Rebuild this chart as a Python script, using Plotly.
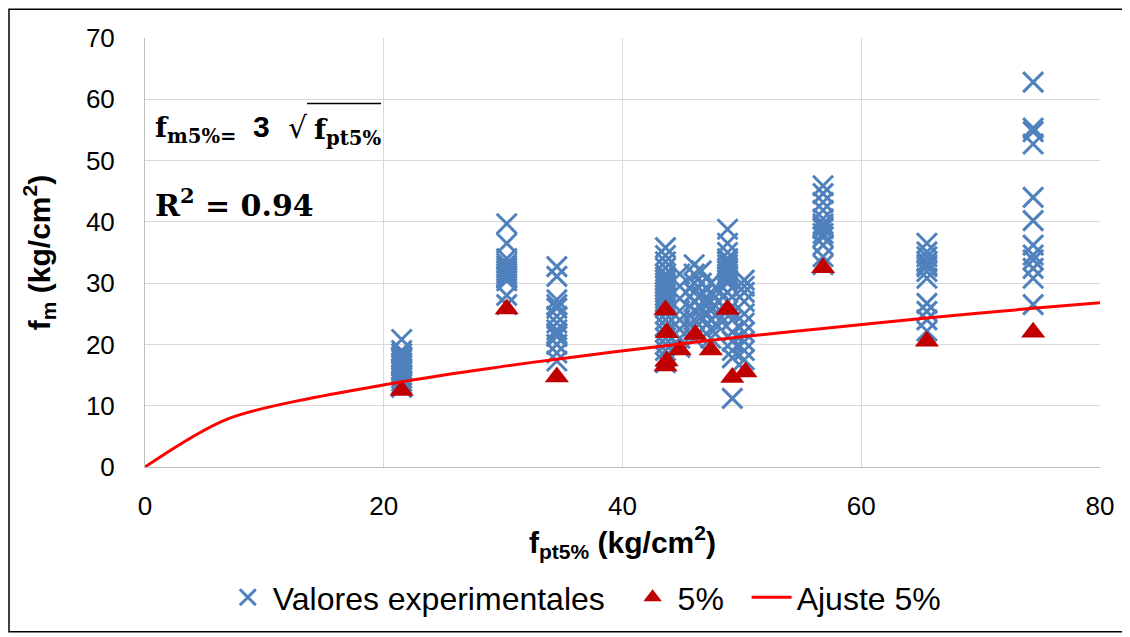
import plotly.graph_objects as go

# --- Data ---
exp_x = (
    [21.5] * 17 + [30.3] * 13 + [34.5] * 13 +
    [43.6] * 25 + [44.8] * 8 + [46.0] * 9 + [46.6] * 5 + [47.4] * 7 + [48.0] * 4 +
    [48.8] * 15 + [49.2] * 6 + [50.2] * 10 +
    [56.8] * 13 + [65.5] * 12 + [74.4] * 12
)
exp_y = (
    [20.8, 19.0, 18.5, 18.0, 17.5, 17.0, 16.5, 16.0, 15.5, 15.0, 14.5, 14.0, 13.5, 13.0, 17.8, 16.8, 15.8]
    + [39.7, 36.5, 34.0, 33.2, 32.8, 32.4, 32.0, 31.6, 31.2, 30.8, 30.4, 28.0, 26.5]
    + [32.7, 31.1, 27.3, 25.9, 24.6, 23.5, 22.4, 21.3, 20.0, 18.6, 17.3, 26.5, 21.8]
    + [35.8, 34.5, 33.5, 32.5, 31.5, 31.0, 30.5, 30.0, 29.5, 29.0, 28.5, 28.0, 27.5, 27.0,
       26.5, 26.0, 25.0, 24.0, 23.0, 22.0, 21.0, 20.0, 19.0, 18.0, 17.0]
    + [31.5, 29.5, 27.5, 25.5, 24.0, 22.5, 21.0, 19.5]
    + [33.0, 31.5, 30.0, 28.5, 27.0, 25.5, 24.0, 22.5, 21.0]
    + [32.0, 30.0, 28.0, 26.0, 24.5]
    + [30.0, 28.5, 27.0, 25.5, 24.0, 22.5, 21.0]
    + [29.0, 27.0, 25.0, 23.0]
    + [38.8, 36.5, 35.0, 34.0, 33.5, 33.0, 32.5, 32.0, 31.5, 31.0, 30.5, 30.0, 28.5, 27.0, 25.5]
    + [24.0, 22.0, 20.5, 19.0, 17.8, 11.2]
    + [30.5, 29.5, 28.5, 27.0, 25.0, 23.5, 22.0, 20.5, 19.0, 17.5]
    + [45.9, 44.6, 43.2, 41.9, 40.5, 39.7, 38.9, 38.1, 37.5, 36.2, 34.3, 33.0, 39.3]
    + [36.5, 35.1, 34.3, 33.5, 32.7, 31.9, 30.8, 26.7, 25.4, 24.0, 22.2, 33.0]
    + [62.8, 55.3, 54.7, 52.7, 44.0, 40.2, 36.2, 34.6, 33.8, 32.4, 30.8, 26.5]
)

p5_x = [21.5, 30.3, 34.5, 43.6, 43.7, 43.7, 43.6, 44.8, 46.1, 47.4, 48.8, 49.2, 50.3, 56.8, 65.5, 74.4]
p5_y = [12.5, 25.8, 14.7, 25.6, 21.9, 17.3, 16.5, 19.1, 21.6, 19.1, 25.7, 14.6, 15.5, 32.5, 20.5, 22.0]

fit_x = [0, 7.0, 21.5, 30.3, 34.5, 43.6, 50.2, 56.8, 65.5, 74.4, 80]
fit_y = [0, 7.9, 13.9, 16.5, 17.6, 19.8, 21.3, 22.6, 24.3, 25.9, 26.8]

x_ticks = [0, 20, 40, 60, 80]
y_ticks = [0, 10, 20, 30, 40, 50, 60, 70]

FONT = "Liberation Sans, Arial, sans-serif"
SERIF = "DejaVu Serif, Liberation Serif, serif"

W, H = 1122, 629
L, T, R = 137, 30, 30
B = H - T - 432
PAD = "\u00a0\u00a0"

fig = go.Figure()
fig.add_trace(go.Scatter(
    x=exp_x, y=exp_y, mode="markers", name="Valores experimentales" + PAD,
    marker=dict(symbol="x-thin", size=20, color="#4F81BD",
                line=dict(width=3, color="#4F81BD")),
))
fig.add_trace(go.Scatter(
    x=p5_x, y=p5_y, mode="markers", name="5%" + PAD,
    marker=dict(symbol="triangle-up", size=21, color="#C00000",
                line=dict(width=0)),
))
fig.add_trace(go.Scatter(
    x=fit_x, y=fit_y, mode="lines", name="Ajuste 5%",
    line=dict(color="#FF0000", width=3, shape="spline", smoothing=0.8),
))

fig.update_layout(
    width=W, height=H,
    margin=dict(l=L, r=R, t=T, b=B),
    paper_bgcolor="white", plot_bgcolor="white",
    font=dict(family=FONT, color="black", size=26),
    showlegend=True,
    legend=dict(orientation="h", x=0.46, xanchor="center", y=-0.24, yanchor="top",
                font=dict(size=32, family=FONT), itemwidth=40, traceorder="normal"),
    xaxis=dict(
        range=[0, 80], tickvals=x_ticks, showgrid=True, gridcolor="#D9D9D9", gridwidth=1,
        zeroline=False, showline=True, linecolor="#BFBFBF", linewidth=1,
        ticks="", tickfont=dict(size=26), ticklabelstandoff=16,
        title=dict(text="<b>f<sub>pt5%</sub> (kg/cm<sup>2</sup>)</b>", font=dict(size=30), standoff=4),
    ),
    yaxis=dict(
        range=[0, 70], tickvals=y_ticks, showgrid=True, gridcolor="#D9D9D9", gridwidth=1,
        zeroline=False, showline=True, linecolor="#BFBFBF", linewidth=1,
        ticks="", tickfont=dict(size=26), ticklabelstandoff=24,
        title=dict(text="<b>f<sub>m</sub> (kg/cm<sup>2</sup>)</b>", font=dict(size=30), standoff=26),
    ),
)

def px_x(p):
    return (p - 145) / 955

def px_y(p):
    return (470 - p) / 432

fig.add_annotation(
    xref="paper", yref="paper", x=px_x(153), y=px_y(130), xanchor="left", yanchor="middle",
    text="<b>f<sub>m5%=</sub></b>", showarrow=False,
    font=dict(family=SERIF, size=28),
)
fig.add_annotation(
    xref="paper", yref="paper", x=px_x(251), y=px_y(127), xanchor="left", yanchor="middle",
    text="<b>3</b>", showarrow=False, font=dict(family=FONT, size=30),
)
fig.add_annotation(
    xref="paper", yref="paper", x=px_x(286), y=px_y(128), xanchor="left", yanchor="middle",
    text="√", showarrow=False, font=dict(family=SERIF, size=30),
)
fig.add_annotation(
    xref="paper", yref="paper", x=px_x(312), y=px_y(132), xanchor="left", yanchor="middle",
    text="<b>f<sub>pt5%</sub></b>", showarrow=False, font=dict(family=SERIF, size=28),
)
fig.add_shape(type="line", xref="paper", yref="paper", x0=px_x(307), x1=px_x(381),
              y0=px_y(104), y1=px_y(104), line=dict(color="black", width=1.5))
fig.add_annotation(
    xref="paper", yref="paper", x=px_x(153), y=px_y(204), xanchor="left", yanchor="middle",
    text="<b>R<sup>2</sup> = 0.94</b>", showarrow=False, font=dict(family=SERIF, size=30),
)
# outer chart border
fig.add_shape(type="rect", xref="paper", yref="paper",
              x0=-(L - 1) / 955, x1=1 + (R - 1) / 955,
              y0=-(B - 1) / 432, y1=1 + (T - 1) / 432, line=dict(color="black", width=1.5))

fig.write_html("out.html")
